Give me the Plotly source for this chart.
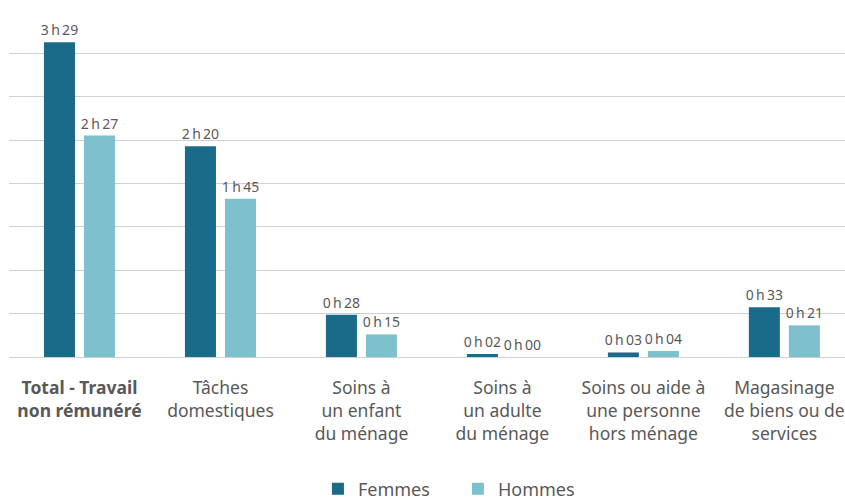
import plotly.graph_objects as go

categories = [
    "<b>Total - Travail<br>non rémunéré</b>",
    "Tâches<br>domestiques",
    "Soins à<br>un enfant<br>du ménage",
    "Soins à<br>un adulte<br>du ménage",
    "Soins ou aide à<br>une personne<br>hors ménage",
    "Magasinage<br>de biens ou de<br>services",
]
# Average time per day, in minutes
femmes_min = [209, 140, 28, 2, 3, 33]
hommes_min = [147, 105, 15, 0, 4, 21]

FEMMES_COLOR = "#1a6a89"
HOMMES_COLOR = "#7dc1cf"
TEXT_COLOR = "#595959"
FONT = "'Noto Sans', sans-serif"

BAR_W = 0.22


def hm(minutes):
    # hours and minutes separated by thin spaces, e.g. "3 h 29"
    return f"{minutes // 60}\u2009h\u2009{minutes % 60:02d}"


fig = go.Figure()
for name, vals, color, off in [
    ("Femmes", femmes_min, FEMMES_COLOR, -0.252),
    ("Hommes", hommes_min, HOMMES_COLOR, 0.032),
]:
    fig.add_trace(go.Bar(
        name=name,
        x=categories,
        y=vals,
        width=BAR_W,
        offset=off,
        marker=dict(color=color, line=dict(width=0)),
        text=[hm(v) for v in vals],
        textposition="outside",
        constraintext="none",
        cliponaxis=False,
        textfont=dict(family=FONT, size=14, color=TEXT_COLOR),
    ))

fig.update_layout(
    width=845,
    height=502,
    margin=dict(l=9, r=0, t=9.5, b=145, autoexpand=False),
    paper_bgcolor="white",
    plot_bgcolor="white",
    barmode="group",
    font=dict(family=FONT, color=TEXT_COLOR),
    xaxis=dict(
        range=[-0.5, 5.43],
        showgrid=False,
        showline=False,
        ticks="outside",
        ticklen=15,
        tickcolor="rgba(0,0,0,0)",
        automargin=False,
        tickfont=dict(family=FONT, size=17.5, color=TEXT_COLOR),
    ),
    yaxis=dict(
        range=[0, 230.4],
        dtick=28.8,
        showgrid=True,
        gridcolor="#d0d0d0",
        gridwidth=1,
        zeroline=True,
        zerolinecolor="#d0d0d0",
        zerolinewidth=1,
        showticklabels=False,
        ticks="",
    ),
    legend=dict(
        orientation="h",
        x=0.537,
        xanchor="center",
        yref="container",
        y=0.026,
        yanchor="middle",
        font=dict(family=FONT, size=18, color=TEXT_COLOR),
        itemwidth=30,
        entrywidth=95,
        entrywidthmode="pixels",
        traceorder="normal",
    ),
    showlegend=True,
)

fig.write_html("out.html")
